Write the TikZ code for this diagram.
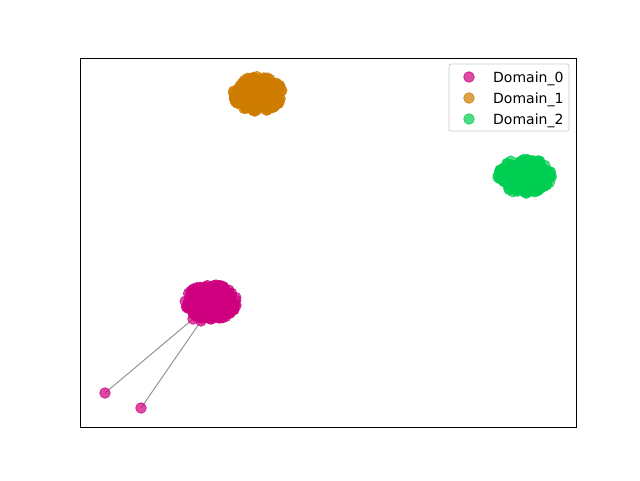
\documentclass[tikz,border=0pt]{standalone}
\usepackage{fontspec}
\setmainfont{DejaVu Sans}
\definecolor{cA}{RGB}{206,0,128}
\definecolor{cB}{RGB}{206,124,0}
\definecolor{cC}{RGB}{0,206,82}
\definecolor{edgegray}{RGB}{150,150,150}
\tikzset{
  pt/.style={fill=#1,draw=#1,line width=0.8pt,fill opacity=0.7,draw opacity=0.75},
  legtext/.style={anchor=base west,font=\fontsize{14}{16}\selectfont,inner sep=0pt},
  link/.style={draw=edgegray,line width=1pt},
  frame/.style={draw=black,line width=0.8pt}
}
\begin{document}
\begin{tikzpicture}[x=1pt,y=-1pt]
\useasboundingbox (0,0) rectangle (640,480);
\fill[white] (0,0) rectangle (640,480);
% outlier links
\coordinate (h1) at (193,319);
\coordinate (h2) at (201,321);
\node[circle,minimum size=11pt,inner sep=0pt] (o1) at (105,393) {};
\node[circle,minimum size=11pt,inner sep=0pt] (o2) at (141,408) {};
\draw[link] (o1.center) -- (h1);
\draw[link] (o2.center) -- (h2);
\pgfmathsetseed{7}
% Domain_0 cluster
\fill[cA] (211,302) ellipse (25 and 17);
\foreach \i in {1,...,120}{
  \pgfmathsetmacro\ang{360*rnd}
  \pgfmathsetmacro\rr{0.55+0.45*sqrt(rnd)}
  \path[pt=cA] ({211+26*\rr*cos(\ang)},{302+17.5*\rr*sin(\ang)}) circle (5.3);
}
\path[pt=cA] (h1) circle (5.3);
\path[pt=cA] (h2) circle (5.3);
% Domain_1 cluster
\fill[cB] (258,94) ellipse (24 and 17);
\foreach \i in {1,...,120}{
  \pgfmathsetmacro\ang{360*rnd}
  \pgfmathsetmacro\rr{0.55+0.45*sqrt(rnd)}
  \path[pt=cB] ({258+25*\rr*cos(\ang)},{94+17.5*\rr*sin(\ang)}) circle (5.3);
}
% Domain_2 cluster
\fill[cC] (525,176) ellipse (25 and 17);
\foreach \i in {1,...,120}{
  \pgfmathsetmacro\ang{360*rnd}
  \pgfmathsetmacro\rr{0.55+0.45*sqrt(rnd)}
  \path[pt=cC] ({525+27*\rr*cos(\ang)},{176+17.5*\rr*sin(\ang)}) circle (5.3);
}
% outlier points
\path[pt=cA] (o1.center) circle (5.3);
\path[pt=cA] (o2.center) circle (5.3);
% axes frame
\draw[frame] (80,58) rectangle (576,427);
% legend
\node[draw=black!20,fill=white,fill opacity=0.8,text opacity=1,rounded corners=2pt,minimum width=120pt,minimum height=67pt,inner sep=0pt,line width=0.8pt] (leg) at (509,97.5) {};
\path[pt=cA] (469,77) circle (5.3);
\path[pt=cB] (469,98) circle (5.3);
\path[pt=cC] (469,119) circle (5.3);
\node[legtext] (l0) at (493,82) {Domain\_0};
\node[legtext] (l1) at (493,103) {Domain\_1};
\node[legtext] (l2) at (493,124) {Domain\_2};
\end{tikzpicture}
\end{document}
